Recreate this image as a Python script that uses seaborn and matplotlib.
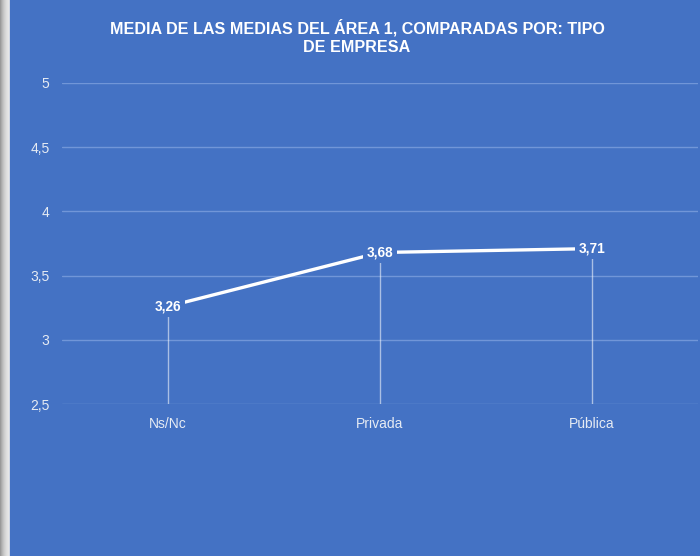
import matplotlib
matplotlib.use("Agg")
import matplotlib.pyplot as plt
from matplotlib.patches import Rectangle
import seaborn as sns
import pandas as pd

categorias = ["Ns/Nc", "Privada", "Pública"]
medias = [3.26, 3.68, 3.71]
y_ticks = [2.5, 3, 3.5, 4, 4.5, 5]
titulo = "MEDIA DE LAS MEDIAS DEL ÁREA 1, COMPARADAS POR: TIPO\nDE EMPRESA"

BG = "#4472C4"
GRID = "#7196D8"
TXT = "#E6EBF3"

sns.set_theme(style="white")
plt.rcParams["font.family"] = ["Liberation Sans", "DejaVu Sans"]

fig = plt.figure(figsize=(7, 5.56), dpi=100, facecolor=BG)
# grey edge on the left side of the panel
for i, c in enumerate(["#9a9a9a", "#aaaaaa", "#b8b8b8", "#c4c4c4", "#cecece", "#d6d6d6", "#dddddd", "#e2e2e2", "#e6e6e6", "#cfd6e4"]):
    fig.patches.append(Rectangle((i / 700, 0), 1 / 700, 1, transform=fig.transFigure,
                                 facecolor=c, edgecolor="none", zorder=0))

ax = fig.add_axes([62 / 700, 1 - 404 / 556, 636 / 700, 321 / 556])
ax.set_facecolor(BG)

df = pd.DataFrame({"tipo": categorias, "media": medias})
x = list(range(len(categorias)))

ax.vlines(x, y_ticks[0], medias, colors="white", alpha=0.55, linewidth=1, zorder=2)
sns.lineplot(data=df, x="tipo", y="media", ax=ax, color="white", linewidth=2.4,
             sort=False, zorder=3)

for xi, v in zip(x, medias):
    ax.text(xi, v, f"{v:.2f}".replace(".", ","), ha="center", va="center",
            color="white", fontsize=9.8, fontweight="bold", zorder=5,
            bbox=dict(boxstyle="square,pad=0.25", facecolor=BG, edgecolor="none"))

ax.set_xlim(-0.5, len(categorias) - 0.5)
ax.set_ylim(y_ticks[0], y_ticks[-1])
ax.set_yticks(y_ticks)
ax.set_yticklabels([f"{t:g}".replace(".", ",") for t in y_ticks])
ax.set_xticks(x)
ax.set_xticklabels(categorias)
ax.set_xlabel("")
ax.set_ylabel("")
ax.tick_params(axis="both", colors=TXT, labelsize=10, length=0)
ax.tick_params(axis="y", pad=9)
ax.tick_params(axis="x", pad=9)
for t in ax.get_xticklabels() + ax.get_yticklabels():
    t.set_color(TXT)
ax.yaxis.grid(True, color=GRID, linewidth=1)
ax.set_axisbelow(True)
for s in ax.spines.values():
    s.set_visible(False)

fig.text(357 / 700, 1 - 37 / 556, titulo, ha="center", va="center", color="white",
         fontsize=11.6, fontweight="bold", linespacing=1.35)

fig.savefig("out.png", dpi=100, facecolor=BG)
